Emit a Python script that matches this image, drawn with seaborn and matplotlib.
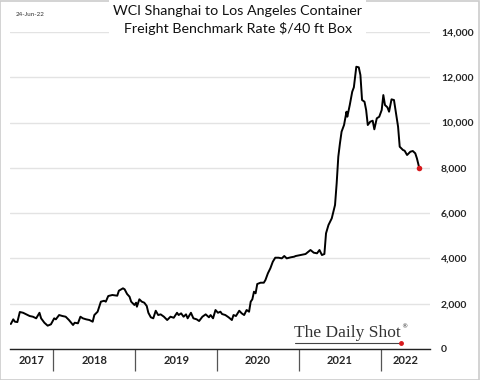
import numpy as np
import pandas as pd
import matplotlib
matplotlib.use("Agg")
import matplotlib.pyplot as plt
import seaborn as sns

# WCI Shanghai -> Los Angeles, $ per 40ft box (time as decimal year)
t = [2017.48, 2017.51, 2017.53, 2017.56, 2017.59, 2017.63, 2017.67, 2017.71, 2017.75, 2017.79,
     2017.83, 2017.85, 2017.89, 2017.93, 2017.97, 2018.01, 2018.03, 2018.07, 2018.11, 2018.15,
     2018.19, 2018.24, 2018.26, 2018.30, 2018.33, 2018.36, 2018.40, 2018.44, 2018.48, 2018.50,
     2018.54, 2018.58, 2018.62, 2018.64, 2018.67, 2018.72, 2018.78, 2018.80, 2018.85, 2018.87,
     2018.90, 2018.93, 2018.95, 2018.99, 2019.01, 2019.02, 2019.05, 2019.08, 2019.11, 2019.14,
     2019.16, 2019.19, 2019.22, 2019.25, 2019.28, 2019.31, 2019.35, 2019.39, 2019.43, 2019.47,
     2019.51, 2019.53, 2019.56, 2019.59, 2019.62, 2019.64, 2019.68, 2019.71, 2019.75, 2019.78,
     2019.82, 2019.86, 2019.90, 2019.92, 2019.95, 2019.98, 2020.01, 2020.04, 2020.06, 2020.10,
     2020.14, 2020.18, 2020.20, 2020.23, 2020.27, 2020.30, 2020.33, 2020.36, 2020.39, 2020.41,
     2020.43, 2020.45, 2020.47, 2020.49, 2020.53, 2020.57, 2020.59, 2020.62, 2020.65, 2020.68,
     2020.71, 2020.75, 2020.79, 2020.82, 2020.85, 2020.90, 2020.94, 2020.96, 2021.02, 2021.08,
     2021.14, 2021.18, 2021.22, 2021.25, 2021.28, 2021.31, 2021.33, 2021.36, 2021.40, 2021.44,
     2021.46, 2021.48, 2021.50, 2021.52, 2021.55, 2021.58, 2021.59, 2021.62, 2021.65, 2021.67,
     2021.70, 2021.73, 2021.75, 2021.77, 2021.80, 2021.82, 2021.84, 2021.87, 2021.90, 2021.92,
     2021.95, 2021.98, 2022.01, 2022.03, 2022.05, 2022.08, 2022.10, 2022.13, 2022.16, 2022.18,
     2022.21, 2022.23, 2022.27, 2022.29, 2022.32, 2022.36, 2022.39, 2022.42, 2022.44, 2022.47]
rate = [1104, 1310, 1205, 1190, 1634, 1600, 1530, 1457, 1426, 1355,
        1600, 1355, 1160, 1030, 1090, 1355, 1310, 1500, 1457, 1426,
        1280, 1060, 1160, 1135, 1426, 1355, 1310, 1280, 1205, 1500,
        1647, 2090, 2130, 2090, 2340, 2385, 2354, 2575, 2680, 2636,
        2430, 2310, 2090, 1943, 2045, 1868, 2195, 2090, 2045, 1900,
        1600, 1400, 1355, 1690, 1500, 1530, 1426, 1280, 1426, 1380,
        1600, 1500, 1575, 1426, 1530, 1355, 1600, 1355, 1310, 1236,
        1426, 1530, 1400, 1500, 1355, 1722, 1600, 1647, 1545, 1500,
        1400, 1280, 1500, 1457, 1690, 1575, 1500, 1722, 1647, 2090,
        2195, 2530, 2460, 2870, 2928, 2928, 3047, 3343, 3563, 3855,
        4032, 4032, 4003, 4107, 4003, 4050, 4076, 4107, 4150, 4195,
        4372, 4253, 4226, 4372, 4150, 4195, 5109, 5476, 5770, 6360,
        7317, 8493, 9083, 9598, 9892, 10480, 10258, 10775, 11362, 11557,
        12466, 12440, 12100, 10996, 10920, 10554, 9892, 10038, 10082, 9702,
        10188, 10258, 10554, 11216, 10775, 10673, 10480, 11026, 10996, 10523,
        9817, 8934, 8788, 8757, 8567, 8713, 8744, 8642, 8421, 7980]

years = [2017, 2018, 2019, 2020, 2021, 2022]
x_start, x_end = 2017.47, 2022.60
y_ticks = [0, 2000, 4000, 6000, 8000, 10000, 12000, 14000]

df = pd.DataFrame({"t": t, "rate": rate})

sns.set_style("white")
plt.rcParams["font.family"] = ["Lato", "DejaVu Sans"]

fig = plt.figure(figsize=(4.8, 3.8), dpi=100)
ax = fig.add_axes([10 / 480, 31 / 380, 420 / 480, 317 / 380])

sns.lineplot(data=df, x="t", y="rate", ax=ax, color="black", linewidth=1.4)
ax.scatter([t[-1]], [rate[-1]], color="#d7191c", s=16, zorder=5, linewidths=0)

ax.set_xlim(x_start, x_end)
ax.set_ylim(0, 14000)
ax.set_xlabel("")
ax.set_ylabel("")

# y axis on the right, bold labels
ax.yaxis.tick_right()
ax.set_yticks(y_ticks, labels=[f"{v:,}" for v in y_ticks], fontweight="bold", fontsize=7.5)
ax.tick_params(axis="y", length=0, pad=8)
ax.grid(axis="y", color="#e3e3e3", linewidth=1.0)
ax.set_axisbelow(True)

# x axis: separators at year boundaries, labels centred in each year
ax.set_xticks(years[1:], labels=[""] * (len(years) - 1))
centres = [(max(y, x_start) + min(y + 1, x_end)) / 2 for y in years]
ax.set_xticks(centres, labels=[str(y) for y in years], minor=True,
              fontweight="bold", fontsize=8)
ax.tick_params(axis="x", which="major", bottom=True, length=16, width=0.9,
               color="#555555", direction="out")
ax.tick_params(axis="x", which="minor", bottom=True, length=0, pad=4)

for side in ["top", "right", "left"]:
    ax.spines[side].set_visible(False)
ax.spines["bottom"].set_color("#222222")
ax.spines["bottom"].set_linewidth(1.0)

# title and date stamp
fig.text(0.495, 0.988, "WCI Shanghai to Los Angeles Container\nFreight Benchmark Rate $/40 ft Box",
         ha="center", va="top", fontsize=10.3, linespacing=1.5, color="#111111",
         bbox=dict(facecolor="white", edgecolor="none", pad=3))
fig.text(0.032, 0.962, "24-Jun-22", fontsize=4.5, color="#333333", va="center")

# watermark
fig.text(0.613, 0.112, "The Daily Shot", fontsize=12.5, family="Liberation Serif",
         color="#333333", ha="left", va="baseline")
fig.text(0.836, 0.135, "®", fontsize=4.5, family="DejaVu Sans", color="#333333")
fig.add_artist(plt.Line2D([0.615, 0.832], [0.098, 0.098], color="#444444", linewidth=0.8))
fig.add_artist(plt.Line2D([0.836], [0.098], marker="o", markersize=2.5, color="#d7191c",
                          linestyle="none"))

# outer frame
fig.add_artist(plt.Rectangle((0.001, 0.001), 0.997, 0.997, fill=False,
                             edgecolor="#cccccc", linewidth=1.2, transform=fig.transFigure))

fig.savefig("out.png", dpi=100)
